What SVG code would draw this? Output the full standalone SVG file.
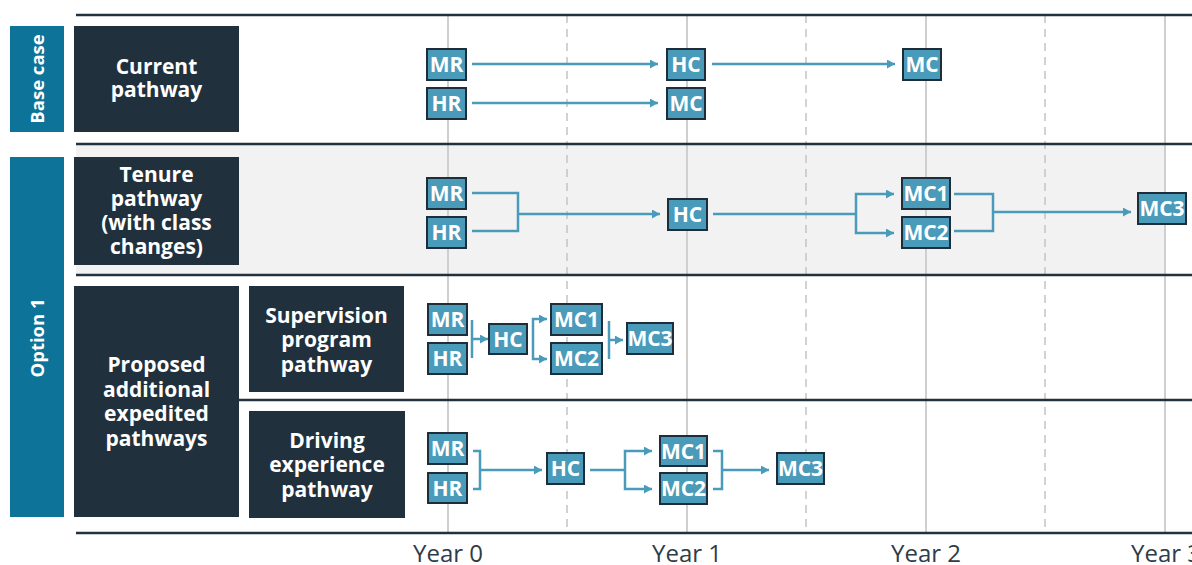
<svg xmlns="http://www.w3.org/2000/svg" width="1192" height="565" viewBox="0 0 1192 565">
<style>
.lbl{font-family:"Open Sans","Liberation Sans",sans-serif;font-weight:700;font-size:21px;fill:#ffffff;text-anchor:middle}
.side{font-family:"Open Sans","Liberation Sans",sans-serif;font-weight:700;font-size:18.5px;fill:#ffffff;text-anchor:middle}
.yr{font-family:"Open Sans","Liberation Sans",sans-serif;font-size:24px;fill:#2e3c48;text-anchor:middle}
.dark{fill:#21303d}
.bar{fill:#0d7399}
.node rect{fill:#4a9aba;stroke:#1e2d3a;stroke-width:2}
.node text{font-family:"Open Sans","Liberation Sans",sans-serif;font-weight:700;font-size:21px;fill:#ffffff;text-anchor:middle}
.rule{stroke:#22313f;stroke-width:2.5}
.grid{stroke:#cfcfcf;stroke-width:2}
.half{stroke:#c4c4c4;stroke-width:1.5;stroke-dasharray:8 6}
#connectors path{fill:none;stroke:#4a9aba;stroke-width:2.5}
</style>
<defs>
<marker id="ah" markerUnits="userSpaceOnUse" markerWidth="10" markerHeight="10" refX="8" refY="4.5" orient="auto">
<path d="M0,0 L8,4.5 L0,9 z" fill="#4a9aba"/>
</marker>
</defs>
<rect x="76" y="145" width="1089" height="129" fill="#f2f2f2"/>
<g id="grid">
<line class="grid" x1="448" y1="15" x2="448" y2="533"/>
<line class="grid" x1="687" y1="15" x2="687" y2="533"/>
<line class="grid" x1="926" y1="15" x2="926" y2="533"/>
<line class="grid" x1="1165" y1="15" x2="1165" y2="533"/>
<line class="half" x1="567" y1="15" x2="567" y2="533"/>
<line class="half" x1="806" y1="15" x2="806" y2="533"/>
<line class="half" x1="1045" y1="15" x2="1045" y2="533"/>
</g>
<g id="rules">
<line class="rule" x1="76" y1="15" x2="1192" y2="15"/>
<line class="rule" x1="76" y1="144" x2="1192" y2="144"/>
<line class="rule" x1="76" y1="275" x2="1192" y2="275"/>
<line class="rule" x1="239" y1="400" x2="1192" y2="400"/>
<line class="rule" x1="76" y1="533" x2="1192" y2="533"/>
</g>
<g id="axis">
<text class="yr" x="448" y="562">Year 0</text>
<text class="yr" x="687" y="562">Year 1</text>
<text class="yr" x="926" y="562">Year 2</text>
<text class="yr" x="1166" y="562">Year 3</text>
</g>
<g id="base-case"><rect class="bar" x="10" y="26" width="54" height="106"/><text class="side" transform="translate(44,79) rotate(-90)">Base case</text></g>
<g id="option-1"><rect class="bar" x="10" y="157" width="54" height="360"/><text class="side" transform="translate(44,338) rotate(-90)">Option 1</text></g>
<g id="current-pathway"><rect class="dark" x="74" y="26" width="165" height="106"/><text class="lbl" x="156.5" y="74">Current</text><text class="lbl" x="156.5" y="97">pathway</text></g>
<g id="tenure-pathway"><rect class="dark" x="74" y="157" width="165" height="108"/><text class="lbl" x="156.5" y="182">Tenure</text><text class="lbl" x="156.5" y="206">pathway</text><text class="lbl" x="156.5" y="230">(with class</text><text class="lbl" x="156.5" y="254">changes)</text></g>
<g id="proposed"><rect class="dark" x="74" y="286" width="165" height="231"/><text class="lbl" x="156.5" y="372">Proposed</text><text class="lbl" x="156.5" y="397">additional</text><text class="lbl" x="156.5" y="421">expedited</text><text class="lbl" x="156.5" y="446">pathways</text></g>
<g id="supervision"><rect class="dark" x="249" y="286" width="155" height="106"/><text class="lbl" x="326.5" y="323">Supervision</text><text class="lbl" x="326.5" y="347">program</text><text class="lbl" x="326.5" y="372">pathway</text></g>
<g id="driving"><rect class="dark" x="249" y="411" width="156" height="107"/><text class="lbl" x="327" y="448">Driving</text><text class="lbl" x="327" y="472">experience</text><text class="lbl" x="327" y="497">pathway</text></g>
<g id="connectors">
<path d="M472,64 H658" marker-end="url(#ah)"/>
<path d="M472,103 H658" marker-end="url(#ah)"/>
<path d="M712,64 H895" marker-end="url(#ah)"/>
<path d="M472,193 H518 V231 H472"/>
<path d="M518,214 H660" marker-end="url(#ah)"/>
<path d="M713,214 H856"/>
<path d="M856,214 V194 H894" marker-end="url(#ah)"/>
<path d="M856,214 V233 H894" marker-end="url(#ah)"/>
<path d="M954,194 H993 V231 H954"/>
<path d="M993,212 H1131" marker-end="url(#ah)"/>
<path d="M472,320 V358"/>
<path d="M472,339 H488" marker-end="url(#ah)"/>
<path d="M533,339 V319 H547" marker-end="url(#ah)"/>
<path d="M533,339 V359 H547" marker-end="url(#ah)"/>
<path d="M609,321 V359"/>
<path d="M609,340 H623" marker-end="url(#ah)"/>
<path d="M473,451 H480 V489 H473"/>
<path d="M480,470 H542" marker-end="url(#ah)"/>
<path d="M590,470 H625"/>
<path d="M625,470 V451 H652" marker-end="url(#ah)"/>
<path d="M625,470 V489 H652" marker-end="url(#ah)"/>
<path d="M713,451 H722 V489 H713"/>
<path d="M722,470 H769" marker-end="url(#ah)"/>
</g>
<g id="b-MR" class="node"><rect x="427" y="49" width="39" height="31"/><text x="446.5" y="72">MR</text></g>
<g id="b-HR" class="node"><rect x="427" y="88" width="39" height="31"/><text x="446.5" y="111">HR</text></g>
<g id="b-HC" class="node"><rect x="667" y="49" width="38" height="31"/><text x="686" y="72">HC</text></g>
<g id="b-MC-y1" class="node"><rect x="667" y="88" width="38" height="31"/><text x="686" y="111">MC</text></g>
<g id="b-MC-y2" class="node"><rect x="903" y="49" width="38" height="31"/><text x="922" y="72">MC</text></g>
<g id="t-MR" class="node"><rect x="427" y="178" width="39" height="31"/><text x="446.5" y="201">MR</text></g>
<g id="t-HR" class="node"><rect x="427" y="217" width="39" height="31"/><text x="446.5" y="240">HR</text></g>
<g id="t-HC" class="node"><rect x="668" y="199" width="39" height="31"/><text x="687.5" y="222">HC</text></g>
<g id="t-MC1" class="node"><rect x="902" y="178" width="48" height="31"/><text x="926" y="201">MC1</text></g>
<g id="t-MC2" class="node"><rect x="902" y="217" width="48" height="31"/><text x="926" y="240">MC2</text></g>
<g id="t-MC3" class="node"><rect x="1138" y="193" width="48" height="31"/><text x="1162" y="216">MC3</text></g>
<g id="s-MR" class="node"><rect x="428" y="304" width="39" height="31"/><text x="447.5" y="327">MR</text></g>
<g id="s-HR" class="node"><rect x="428" y="343" width="39" height="31"/><text x="447.5" y="366">HR</text></g>
<g id="s-HC" class="node"><rect x="489" y="324" width="38" height="30"/><text x="508" y="346.5">HC</text></g>
<g id="s-MC1" class="node"><rect x="551" y="304" width="51" height="31"/><text x="576.5" y="327">MC1</text></g>
<g id="s-MC2" class="node"><rect x="551" y="343" width="51" height="31"/><text x="576.5" y="366">MC2</text></g>
<g id="s-MC3" class="node"><rect x="627" y="323" width="46" height="31"/><text x="650" y="346">MC3</text></g>
<g id="d-MR" class="node"><rect x="428" y="433" width="39" height="31"/><text x="447.5" y="456">MR</text></g>
<g id="d-HR" class="node"><rect x="428" y="473" width="39" height="30"/><text x="447.5" y="495.5">HR</text></g>
<g id="d-HC" class="node"><rect x="547" y="453" width="37" height="31"/><text x="565.5" y="476">HC</text></g>
<g id="d-MC1" class="node"><rect x="660" y="436" width="47" height="30"/><text x="683.5" y="458.5">MC1</text></g>
<g id="d-MC2" class="node"><rect x="660" y="473" width="47" height="31"/><text x="683.5" y="496">MC2</text></g>
<g id="d-MC3" class="node"><rect x="777" y="453" width="47" height="31"/><text x="800.5" y="476">MC3</text></g>
</svg>
